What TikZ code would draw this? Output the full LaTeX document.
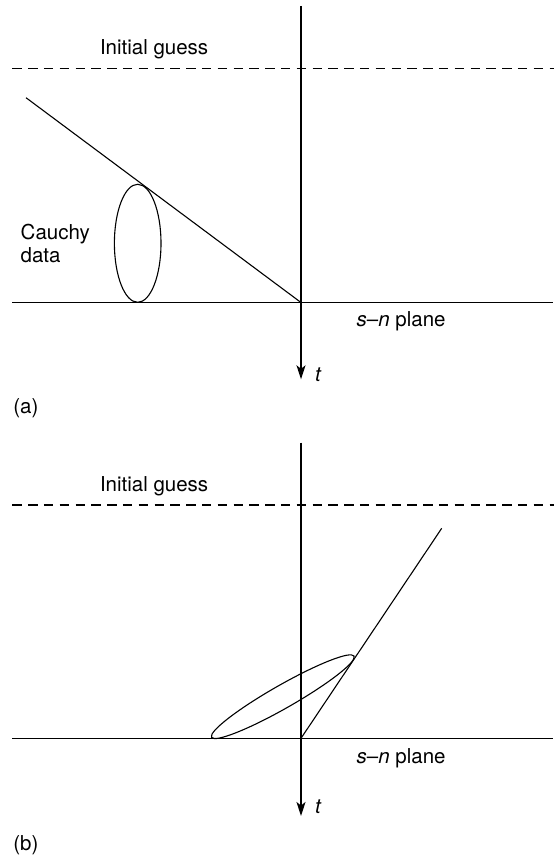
\documentclass[tikz,border=0pt]{standalone}
\usepackage{fontspec}
\setmainfont{TeX Gyre Heros}
\usetikzlibrary{arrows.meta}
\begin{document}
\begin{tikzpicture}[x=1pt,y=-1pt,
  lbl/.style={inner sep=0pt,outer sep=0pt,anchor=base west,font=\fontsize{20.5}{23.5}\selectfont},
  axisline/.style={line width=1.3pt},
  taxis/.style={line width=1.3pt,-{Stealth[length=14pt,width=9pt,inset=3.5pt]}},
  guessline/.style={line width=1.3pt,dash pattern=on 9.5pt off 6.3pt},
  thinline/.style={line width=1.1pt}]
\useasboundingbox (0,0) rectangle (554,858);
% ---------- panel (a) ----------
\coordinate (aT) at (301,6);
\coordinate (aB) at (301,379.3);
\coordinate (aO) at (301,302.5);
\coordinate (aL) at (12.3,302.5);
\coordinate (aR) at (553,302.5);
\coordinate (aDL) at (12.3,68.3);
\coordinate (aDR) at (554,68.3);
\coordinate (aS) at (26,97.7);
\coordinate (aC) at (137.7,243.3);
\draw[guessline] (aDL) -- (aDR);
\draw[axisline] (aL) -- (aR);
\draw[taxis] (aT) -- (aB);
\draw[thinline] (aS) -- (aO);
\draw[thinline] (aC) ellipse [x radius=23.3pt, y radius=59pt];
\node[lbl] (aguess) at (100,55) {Initial guess};
\node[lbl] (acauchy) at (20.7,239.3) {Cauchy};
\node[lbl] (adata) at (20.7,262.7) {data};
\node[lbl] (aplane) at (356.7,326.5) {\textit{s}–\textit{n} plane};
\node[lbl] (at) at (315,381.7) {\textit{t}};
\node[lbl] (alabel) at (13.3,413) {(a)};
% ---------- panel (b) ----------
\coordinate (bT) at (301,442.7);
\coordinate (bB) at (301,816);
\coordinate (bO) at (301,738.3);
\coordinate (bL) at (12.3,738.3);
\coordinate (bR) at (553,738.3);
\coordinate (bDL) at (12.3,505);
\coordinate (bDR) at (554,505);
\coordinate (bS) at (441.7,528.3);
\coordinate (bC) at (282.8,696.7);
\draw[guessline] (bDL) -- (bDR);
\draw[axisline] (bL) -- (bR);
\draw[taxis] (bT) -- (bB);
\draw[thinline] (bO) -- (bS);
\draw[thinline,rotate around={29.7:(bC)}] (bC) ellipse [x radius=82pt, y radius=11.6pt];
\node[lbl] (bguess) at (100,491.5) {Initial guess};
\node[lbl] (bplane) at (356.7,763) {\textit{s}–\textit{n} plane};
\node[lbl] (bt) at (315,813.3) {\textit{t}};
\node[lbl] (blabel) at (13.3,850.7) {(b)};
\end{tikzpicture}
\end{document}
